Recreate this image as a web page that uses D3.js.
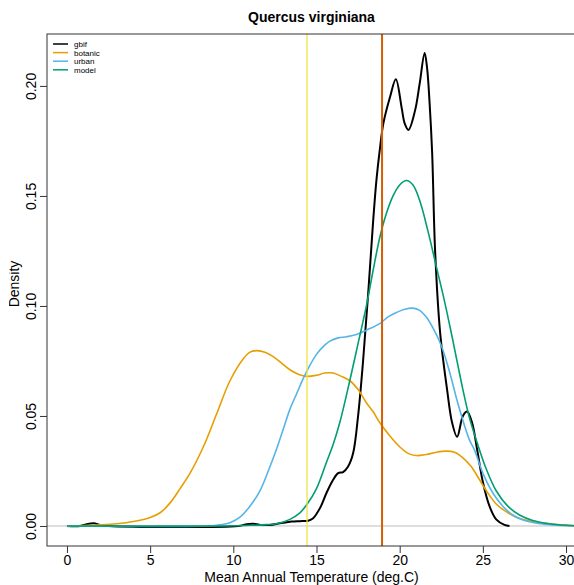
<!DOCTYPE html>
<html>
<head>
<meta charset="utf-8">
<script src="https://cdn.jsdelivr.net/npm/d3@7"></script>
<style>
  body { margin: 0; background: #fff; }
  svg { font-family: "Liberation Sans", Arial, sans-serif; }
</style>
</head>
<body>
<div id="chart"></div>
<script>
// density curves: [temperature, density]
var gbif = [[0,0],[0.8,0],[1.2,0.0008],[1.6,0.0012],[2.0,0.0005],[2.5,0],[10.3,0],[10.8,0.0008],[11.2,0.001],[11.6,0.0005],[12.2,0.0005],[12.8,0.0012],[13.5,0.002],[14.0,0.0022],[14.5,0.0024],[14.8,0.0035],[15.2,0.008],[15.6,0.015],[16.0,0.021],[16.3,0.024],[16.6,0.0245],[16.9,0.027],[17.2,0.033],[17.5,0.05],[17.8,0.075],[18.1,0.105],[18.4,0.138],[18.6,0.157],[18.82,0.172],[19.02,0.183],[19.42,0.195],[19.77,0.203],[20.12,0.19],[20.3,0.183],[20.53,0.18],[20.93,0.189],[21.2,0.201],[21.5,0.215],[21.65,0.208],[21.8,0.192],[21.95,0.17],[22.13,0.125],[22.43,0.088],[22.85,0.062],[23.15,0.047],[23.45,0.0405],[23.8,0.05],[24.05,0.052],[24.35,0.047],[24.65,0.035],[25.0,0.02],[25.4,0.009],[25.8,0.003],[26.3,0.0005],[26.6,0]];
var botanic = [[0,0],[1,0.0002],[2,0.0005],[3,0.001],[4,0.002],[5,0.0038],[5.6,0.006],[6.2,0.0105],[6.8,0.017],[7.4,0.024],[8.2,0.036],[9.0,0.051],[9.8,0.066],[10.6,0.076],[11.0,0.079],[11.4,0.0797],[11.9,0.079],[12.4,0.077],[12.9,0.074],[13.4,0.071],[13.9,0.069],[14.4,0.068],[15.0,0.0685],[15.5,0.0695],[16.0,0.0695],[16.5,0.068],[17.0,0.066],[17.5,0.062],[18.0,0.056],[18.4,0.052],[18.8,0.047],[19.4,0.041],[20.0,0.036],[20.5,0.033],[21.0,0.032],[21.6,0.0325],[22.2,0.0335],[22.8,0.034],[23.3,0.0335],[23.8,0.031],[24.3,0.027],[24.8,0.021],[25.3,0.015],[25.8,0.01],[26.4,0.0065],[27.0,0.004],[28,0.002],[29,0.001],[30,0.0004],[31,0.0001]];
var urban = [[0,0],[8.5,0],[9.2,0.0005],[9.8,0.0015],[10.4,0.004],[11.0,0.009],[11.6,0.016],[12.1,0.025],[12.6,0.035],[13.0,0.044],[13.4,0.053],[13.8,0.06],[14.2,0.067],[14.6,0.073],[15.0,0.078],[15.4,0.0815],[15.8,0.084],[16.3,0.0855],[16.8,0.086],[17.4,0.087],[18.0,0.089],[18.8,0.092],[19.3,0.095],[19.8,0.097],[20.3,0.0985],[20.8,0.099],[21.2,0.098],[21.6,0.095],[22.0,0.09],[22.5,0.082],[23.0,0.07],[23.45,0.057],[23.8,0.048],[24.2,0.039],[24.5,0.0345],[25.0,0.024],[25.6,0.015],[26.2,0.009],[26.8,0.005],[27.5,0.0025],[28.5,0.001],[29.5,0.0003],[30.5,0]];
var model = [[0,0],[9.5,0],[11,0.0003],[12,0.0006],[12.6,0.001],[13.4,0.003],[14.0,0.006],[14.4,0.0095],[15.0,0.017],[15.6,0.029],[16.0,0.037],[16.4,0.047],[17.0,0.066],[17.5,0.083],[18.0,0.1],[18.4,0.116],[18.8,0.131],[19.2,0.142],[19.6,0.15],[20.0,0.155],[20.4,0.157],[20.8,0.155],[21.2,0.148],[21.7,0.134],[22.2,0.118],[22.7,0.102],[23.15,0.086],[23.5,0.073],[23.8,0.062],[24.2,0.049],[24.65,0.038],[25.2,0.026],[25.8,0.016],[26.5,0.009],[27.2,0.005],[28,0.0025],[29,0.001],[30,0.0003],[31,0]];

var seriesNames = ["gbif", "botanic", "urban", "model"];
var seriesColors = ["#000000", "#E69F00", "#56B4E9", "#009E73"];
var seriesWidths = [2, 1.6, 1.6, 1.6];
var vlines = [14.43, 18.94];
var vlineColors = ["#F0E442", "#D55E00"];
var xTicks = [0, 5, 10, 15, 20, 25, 30];
var yTicks = [0, 0.05, 0.10, 0.15, 0.20];

render();

function render() {
  var W = 574, H = 585;
  var left = 47, top = 34, right = 586, bottom = 546;

  var svg = d3.select("#chart").append("svg")
    .attr("width", W).attr("height", H);

  svg.append("clipPath").attr("id", "fig")
    .append("rect").attr("x", 9).attr("y", 0).attr("width", W).attr("height", H);

  var x = d3.scaleLinear().domain([-1.2, 31.2]).range([left, right]);
  var y = d3.scaleLinear().domain([-0.0091, 0.2236]).range([bottom, top]);

  svg.append("text")
    .attr("x", (left + W) / 2 + 1).attr("y", 22)
    .attr("text-anchor", "middle")
    .style("font-size", "14px").style("font-weight", "bold")
    .text("Quercus virginiana");

  // zero line
  svg.append("line")
    .attr("x1", left).attr("x2", right)
    .attr("y1", y(0)).attr("y2", y(0))
    .attr("stroke", "#bebebe").attr("stroke-width", 1);

  var line = d3.line()
    .x(function (d) { return x(d[0]); })
    .y(function (d) { return y(d[1]); })
    .curve(d3.curveCatmullRom.alpha(0.5));

  var all = [gbif, botanic, urban, model];
  for (var i = 0; i < all.length; i++) {
    svg.append("path")
      .datum(all[i])
      .attr("fill", "none")
      .attr("stroke", seriesColors[i])
      .attr("stroke-width", seriesWidths[i])
      .attr("stroke-linejoin", "round")
      .attr("d", line);
  }

  svg.append("line")
    .attr("x1", x(vlines[0])).attr("x2", x(vlines[0]))
    .attr("y1", top).attr("y2", bottom)
    .attr("stroke", vlineColors[0]).attr("stroke-width", 1.3);
  svg.append("line")
    .attr("x1", x(vlines[1])).attr("x2", x(vlines[1]))
    .attr("y1", top).attr("y2", bottom)
    .attr("stroke", vlineColors[1]).attr("stroke-width", 2);

  // box
  svg.append("rect")
    .attr("x", left).attr("y", top)
    .attr("width", right - left).attr("height", bottom - top)
    .attr("fill", "none").attr("stroke", "#333").attr("stroke-width", 1);

  var xAxis = svg.append("g")
    .attr("transform", "translate(0," + bottom + ")")
    .call(d3.axisBottom(x).tickValues(xTicks).tickSize(7).tickPadding(2).tickFormat(d3.format("d")));
  xAxis.select(".domain").remove();
  xAxis.selectAll("line").attr("stroke", "#333");
  xAxis.selectAll("text").style("font-size", "14px").attr("fill", "#000");

  var yAxis = svg.append("g")
    .attr("transform", "translate(" + left + ",0)")
    .call(d3.axisLeft(y).tickValues(yTicks).tickSize(7).tickFormat(d3.format(".2f")));
  yAxis.select(".domain").remove();
  yAxis.selectAll("line").attr("stroke", "#333");
  yAxis.selectAll("text")
    .style("font-size", "14px").attr("fill", "#000")
    .attr("text-anchor", "middle")
    .attr("x", null)
    .attr("transform", "translate(-12,0) rotate(-90)")
    .attr("y", 0).attr("dy", "0.1em");

  svg.append("text")
    .attr("x", (left + W) / 2 + 1).attr("y", 582)
    .attr("text-anchor", "middle")
    .style("font-size", "14px")
    .text("Mean Annual Temperature (deg.C)");

  // y title, its top cut off like in the source figure
  svg.append("g")
    .attr("clip-path", "url(#fig)")
    .append("text")
    .attr("transform", "translate(19," + ((top + bottom) / 2 - 6) + ") rotate(-90)")
    .attr("text-anchor", "middle")
    .style("font-size", "14px")
    .text("Density");

  // legend
  var lg = svg.append("g");
  for (var k = 0; k < seriesNames.length; k++) {
    var ly = 44 + k * 8.6;
    lg.append("line")
      .attr("x1", 53).attr("x2", 68).attr("y1", ly).attr("y2", ly)
      .attr("stroke", seriesColors[k]).attr("stroke-width", 1.5);
    lg.append("text")
      .attr("x", 74).attr("y", ly + 3)
      .style("font-size", "8px")
      .text(seriesNames[k]);
  }
}
</script>
</body>
</html>
